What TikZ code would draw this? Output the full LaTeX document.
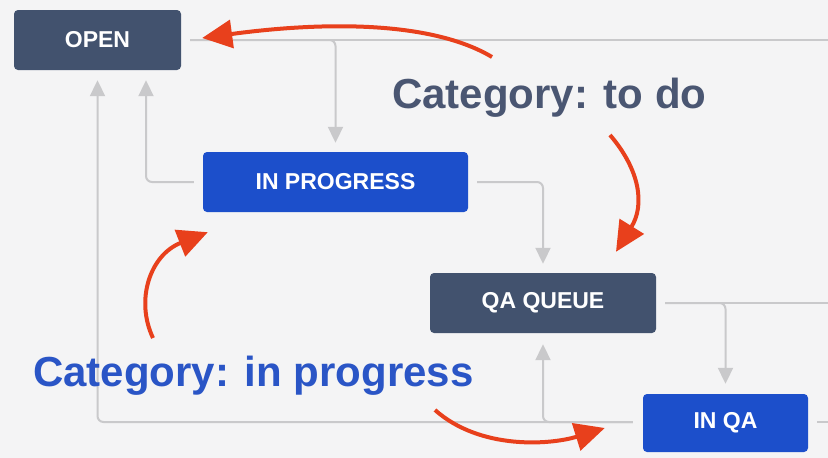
\documentclass[tikz,border=0pt]{standalone}
\usepackage{fontspec}
\setmainfont{Liberation Sans}
\usetikzlibrary{arrows.meta,calc}
\definecolor{bg}{HTML}{F4F4F5}
\definecolor{slate}{HTML}{42526E}
\definecolor{jblue}{HTML}{1C4FCB}
\definecolor{conn}{HTML}{C9C9CB}
\definecolor{redarr}{HTML}{E8401C}
\definecolor{todotext}{HTML}{4A5672}
\definecolor{iptext}{HTML}{2A55C6}
\begin{document}
\begin{tikzpicture}[x=1pt,y=-1pt,
  status/.style={rounded corners=4pt, inner sep=0pt, text=white,
    font=\fontsize{23}{23}\selectfont\bfseries},
  todo/.style={status, fill=slate},
  inprogbox/.style={status, fill=jblue},
  link/.style={draw=conn, line width=2pt, rounded corners=6pt},
  linkarrow/.style={link, -{Triangle[length=16pt,width=15pt]}},
  redline/.style={draw=redarr, line width=4pt, -{Triangle[length=30pt,width=28pt]}},
  category/.style={anchor=base west, inner sep=0pt, font=\fontsize{42}{42}\selectfont\bfseries}]
\fill[bg] (0,0) rectangle (828,458);
\useasboundingbox (0,0) rectangle (828,458);

% status boxes
\node[todo, minimum width=167pt, minimum height=60pt] (open) at (97.5,40) {OPEN};
\node[inprogbox, minimum width=265pt, minimum height=60pt] (inprog) at (335.5,182) {IN PROGRESS};
\node[todo, minimum width=226pt, minimum height=60pt] (qaq) at (543,303) {QA QUEUE};
\node[inprogbox, minimum width=165pt, minimum height=58pt] (inqa) at (725.5,423) {IN QA};

% free ends at the picture's right edge
\coordinate (e1) at (828,40);
\coordinate (e2) at (828,303);
\coordinate (e3) at (828,422);

% grey transitions
\draw[link] ([xshift=9pt]open.east) -- (e1);
\draw[linkarrow] ([xshift=9pt]open.east) -| ([yshift=9pt]inprog.north);
\draw[linkarrow] ([xshift=-9pt]inprog.west) -| ([xshift=48.5pt,yshift=-10pt]open.south);
\draw[linkarrow] ([xshift=-10pt,yshift=1pt]inqa.west) -| ([yshift=-10pt]open.south);
\draw[linkarrow] ([xshift=-10pt,yshift=1pt]inqa.west) -| ([yshift=-11pt]qaq.south);
\draw[linkarrow] ([xshift=9pt]inprog.east) -| ([yshift=9pt]qaq.north);
\draw[link] ([xshift=9pt]qaq.east) -- (e2);
\draw[linkarrow] ([xshift=9pt]qaq.east) -| ([yshift=10pt]inqa.north);
\draw[link] ([xshift=9pt,yshift=1pt]inqa.east) -- (e3);

% category labels
\node[category, text=todotext] (todo) at (392,108) {Category: to do};
\node[category, text=iptext] (inp) at (33,386) {Category: in progress};

% red arrows
\coordinate (r1s) at (492,57);
\coordinate (r2s) at (610,135);
\coordinate (r3s) at (153,338);
\coordinate (r4s) at (435,410);
\draw[redline] (r1s) .. controls (430,20) and (320,22) .. ([xshift=21pt,yshift=2pt]open.east);
\draw[redline] (r2s) .. controls (640,170) and (645,205) .. ([xshift=73pt,yshift=21pt]qaq.north);
\draw[redline] (r3s) .. controls (135,300) and (150,255) .. ([xshift=5pt,yshift=-20pt]inprog.south west);
\draw[redline] (r4s) .. controls (480,450) and (550,445) .. ([xshift=-38pt,yshift=-5pt]inqa.west);
\end{tikzpicture}
\end{document}
